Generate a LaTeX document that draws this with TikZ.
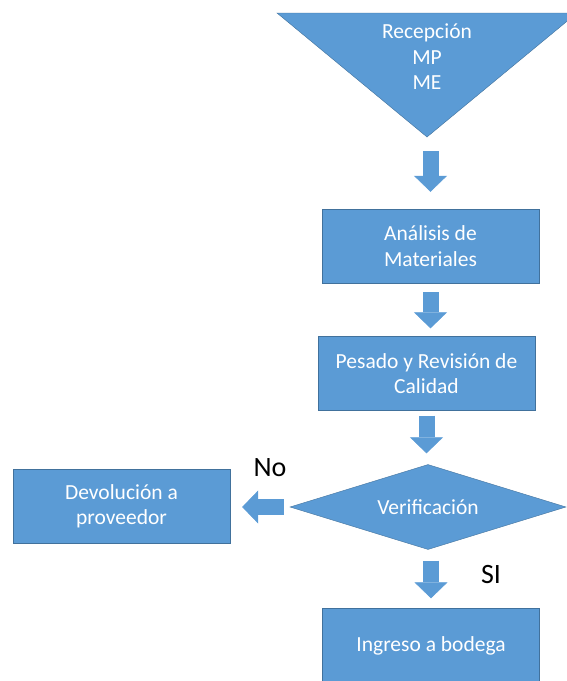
\documentclass[tikz,border=0pt]{standalone}
\usepackage{fontspec}
\setmainfont{Carlito}
\usetikzlibrary{arrows.meta, shapes.geometric}
\definecolor{flowblue}{HTML}{5B9BD5}
\definecolor{flowedge}{HTML}{41719C}

\begin{document}
\begin{tikzpicture}[
      x=1pt, y=-1pt,
      every node/.style={font=\fontsize{21.5}{25.5}\selectfont},
      stepbox/.style={draw=flowedge, fill=flowblue, text=white, align=center,
                      minimum width=217pt, minimum height=74pt, inner sep=0pt},
      check/.style={diamond, draw=flowedge, fill=flowblue, text=white, aspect=3.2,
                    minimum width=276pt, minimum height=85pt, inner sep=0pt},
      answer/.style={font=\fontsize{28}{30}\selectfont},
      fat/.style={line width=16pt, draw=flowblue,
                  -{Triangle[length=16pt, width=33pt, line width=0.5pt]}},
    ]
    \useasboundingbox (0, 0) rectangle (566, 681);

    % inverted triangle for the reception
    \draw[draw=flowedge, fill=flowblue] (277, 13) -- (577, 13) -- (427, 137) coordinate (apex) -- cycle;
    \node[text=white, align=center] (rec) at (427, 57) {Recepción\\MP\\ME};

    \node[stepbox] (ana) at (430.5, 246) {Análisis de\\Materiales};
    \node[stepbox] (pes) at (426.5, 373.5) {Pesado y Revisión de\\Calidad};
    \node[check] (ver) at (428, 507) {Verificación};
    \node[stepbox] (dev) at (121.5, 506.5) {Devolución a\\proveedor};
    \node[stepbox] (ing) at (431, 645.5) {Ingreso a bodega};

    \node[answer] (no) at (270, 468) {No};
    \node[answer] (si) at (491, 575) {SI};

    \draw[fat, shorten <=14pt, shorten >=17pt] (ana.north |- apex) -- (ana.north);
    \draw[fat, shorten <=9pt, shorten >=8pt] (ana.south) -- (ana.south |- pes.north);
    \draw[fat, shorten <=5pt, shorten >=11pt] (pes.south) -- (pes.south |- ver.north);
    \draw[fat, shorten <=6pt, shorten >=12pt] (ver.west) -- (ver.west -| dev.east);
    \draw[fat, shorten <=11pt, shorten >=10pt] (ing.north |- ver.south) -- (ing.north);
  \end{tikzpicture}
\end{document}
